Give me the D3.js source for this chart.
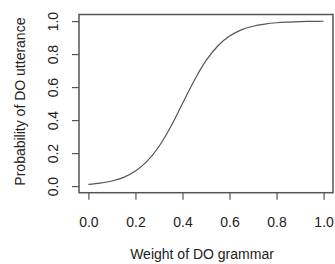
<!DOCTYPE html>
<meta charset="utf-8">
<style>
  body { margin: 0; background: #fff; }
  text { font-family: "Liberation Sans", Arial, sans-serif; fill: #222; }
</style>
<svg width="335" height="264"></svg>
<script src="https://cdnjs.cloudflare.com/ajax/libs/d3/7.8.5/d3.min.js"></script>
<script>
  // values
  var weight = [0, 0.05, 0.1, 0.15, 0.2, 0.25, 0.3, 0.35, 0.4, 0.45, 0.5,
                0.55, 0.6, 0.65, 0.7, 0.75, 0.8, 0.85, 0.9, 0.95, 1.0];
  var prob = [0.010, 0.018, 0.031, 0.053, 0.091, 0.151, 0.240, 0.360, 0.500, 0.640, 0.760,
              0.849, 0.909, 0.947, 0.969, 0.982, 0.990, 0.994, 0.997, 0.998, 0.999];
  var xTicks = [0, 0.2, 0.4, 0.6, 0.8, 1.0];
  var yTicks = [0, 0.2, 0.4, 0.6, 0.8, 1.0];

  var svg = d3.select("svg"),
    box = {left: 79, top: 14.5, right: 333, bottom: 192.7},
    ink = "#555";

  // R style: 4% extension on each side
  var x = d3.scaleLinear().domain([-0.04, 1.04]).range([box.left, box.right]);
  var y = d3.scaleLinear().domain([-0.04, 1.04]).range([box.bottom, box.top]);

  var line = d3.line()
    .x(function(d, i) { return x(weight[i]); })
    .y(function(d) { return y(d); })
    .curve(d3.curveMonotoneX);

  svg.append("path")
    .datum(prob)
    .attr("fill", "none")
    .attr("stroke", ink)
    .attr("stroke-width", 1.2)
    .attr("d", line);

  svg.append("rect")
    .attr("x", box.left)
    .attr("y", box.top)
    .attr("width", box.right - box.left)
    .attr("height", box.bottom - box.top)
    .attr("fill", "none")
    .attr("stroke", ink)
    .attr("stroke-width", 1.5);

  var gx = svg.append("g")
    .attr("transform", "translate(0," + box.bottom + ")")
    .call(d3.axisBottom(x).tickValues(xTicks).tickSize(7).tickFormat(d3.format(".1f")));
  gx.select(".domain").remove();
  gx.selectAll("line").attr("stroke", ink).attr("stroke-width", 1.2);
  gx.selectAll("text")
    .attr("y", 34)
    .attr("dy", null)
    .style("font-size", "14px");

  var gy = svg.append("g")
    .attr("transform", "translate(" + box.left + ",0)")
    .call(d3.axisLeft(y).tickValues(yTicks).tickSize(7).tickFormat(d3.format(".1f")));
  gy.select(".domain").remove();
  gy.selectAll("line").attr("stroke", ink).attr("stroke-width", 1.2);
  gy.selectAll("text")
    .attr("x", null)
    .attr("dy", null)
    .attr("text-anchor", "middle")
    .attr("transform", "translate(-20.7,0) rotate(-90)")
    .style("font-size", "14px");

  svg.append("text")
    .attr("x", 202)
    .attr("y", 258.5)
    .attr("text-anchor", "middle")
    .style("font-size", "14px")
    .text("Weight of DO grammar");

  svg.append("text")
    .attr("transform", "translate(25," + ((box.top + box.bottom) / 2 - 2) + ") rotate(-90)")
    .attr("text-anchor", "middle")
    .style("font-size", "14px")
    .text("Probability of DO utterance");
</script>
